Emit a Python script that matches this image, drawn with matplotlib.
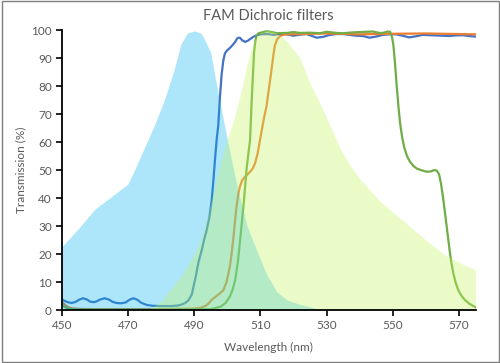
import numpy as np
import matplotlib
matplotlib.use("Agg")
import matplotlib.pyplot as plt
from matplotlib.patches import Rectangle

# excitation spectrum (blue area)
exc_wl = [450, 455, 460, 465, 470, 472, 475, 478, 481, 484, 486, 488, 490, 492,
          493, 495, 497, 500, 503, 506, 509, 512, 515, 518, 522, 527, 530]
exc_t = [22.5, 29, 36, 40.5, 45, 50, 58, 66, 75, 86, 95, 99, 99.7, 99,
         97, 92, 79, 61, 44, 30, 21, 12.5, 6.5, 3.6, 2, 0.5, 0]

# emission spectrum (yellow-green area)
em_wl = [476, 480, 482, 486, 490, 492, 494, 496, 498, 500, 502, 504, 506, 508,
         510, 512, 514, 516, 518, 520, 522, 525, 528, 531, 534, 537, 540, 543,
         546, 550, 554, 558, 562, 566, 570, 575]
em_t = [0, 3, 6, 12, 20, 25, 33, 43, 53, 61, 68, 77, 88, 96,
        99, 100, 99.5, 98, 96, 93, 90, 81, 74, 66, 58, 52, 47, 43,
        39, 35, 31, 27, 23, 19.5, 17, 14.3]

# filter 1 (blue line)
f1_wl = [450, 450.8, 451.8, 453, 454.2, 455.3, 456.5, 457.7, 458.6, 459.5,
         460.4, 461.5, 463, 464.3, 465.4, 466.6, 468, 469.3, 470.4, 471.6,
         472.8, 474, 475.7, 477.6, 480, 483, 485, 486.3, 487.3, 488.3, 489.3,
         489.8, 490.5, 491.3, 492.3, 493, 493.8, 494.6, 495.3, 495.8, 496.3,
         496.8, 497.3, 497.8, 498.3, 498.8, 499.3, 500, 500.7, 501.5, 502.4,
         503, 503.4, 503.9, 504.5, 505.4, 506.2, 506.9, 507.9, 508.9, 510,
         512, 514, 516, 518, 520, 522, 524, 527, 529, 531, 533, 535, 537, 539,
         541, 543, 545, 547, 549, 551, 553, 555, 557, 559, 561, 563, 565, 567,
         569, 571, 573, 575]
f1_t = [3.8, 3.3, 2.8, 2.5, 2.9, 3.7, 4.2, 3.7, 3.0, 2.8,
        3.0, 3.7, 4.2, 3.7, 2.9, 2.5, 2.4, 2.7, 3.6, 4.2,
        3.7, 2.6, 1.8, 1.5, 1.4, 1.4, 1.6, 2.0, 2.5, 3.5, 5.5,
        8.3, 12, 17, 21.4, 25, 28.6, 33, 39, 46, 53.6,
        60.7, 66, 76, 84, 89, 91.7, 92.8, 93.5, 94.5, 95.8,
        97.0, 97.3, 97.2, 96.4, 95.8, 96.2, 96.8, 97.6, 98.2, 98.5,
        98.6, 98.3, 98.6, 98.5, 98.0, 98.4, 98.6, 97.3, 97.6, 98.3, 98.6, 98.6,
        98.3, 98.0, 97.9, 97.3, 97.7, 98.3, 98.5, 98.5, 98.0, 97.4, 97.8,
        98.3, 98.2, 98.1, 98.0, 97.9, 98.1, 98.2, 97.9, 97.7]

# filter 2 (orange line)
f2_wl = [450, 451, 452, 453, 455, 460, 470, 480, 490, 492, 493.5, 494.5,
         495.3, 497, 498.8, 499.8, 500.8, 501.3, 501.8, 502.3, 502.8, 503.3,
         503.8, 504.5, 505.4, 506.2, 506.9, 507.7, 508.4, 509.2, 509.9, 510.4,
         511.1, 511.9, 512.7, 513.4, 514, 514.4, 515.1, 516, 517, 518, 522,
         530, 540, 550, 560, 570, 575]
f2_t = [3.0, 1.8, 1.0, 0.6, 0.4, 0.3, 0.3, 0.3, 0.5, 0.8, 1.5, 2.5,
        3.6, 5.2, 7.0, 10, 15.5, 20, 25, 31, 36.9, 41,
        44, 46.3, 47.6, 48.5, 49.4, 50.5, 52.4, 56, 60.7, 64,
        68.5, 73, 80, 86, 91.5, 94.6, 96.8, 97.9, 98.4, 98.5, 98.6,
        98.8, 98.5, 98.7, 98.8, 98.6, 98.5]

# filter 3 (green line)
f3_wl = [450, 451, 452, 454, 460, 480, 495, 498, 499.5, 500.8, 501.7, 502.4,
         503.2, 503.9, 504.4, 504.9, 505.4, 505.9, 506.4, 506.9, 507.4, 508.1,
         508.5, 508.9, 509.5, 510.5, 512, 513.5, 515, 518, 520, 522, 525, 528,
         530, 533, 535, 538, 540, 542, 544, 546, 547, 548.5, 549.2, 549.8,
         550.2, 550.7, 551.2, 551.7, 552.2, 552.8, 553.5, 554.3, 555.2, 556.2,
         557.2, 558.5, 560.3, 561.5, 562.5, 563.3, 564, 564.6, 565.3, 565.8,
         566.3, 566.8, 567.3, 567.8, 568.3, 569, 569.8, 570.8, 571.8, 573.2,
         574.7, 575]
f3_t = [2.0, 1.0, 0.5, 0.2, 0.1, 0.1, 0.3, 1.2, 2.5, 4.8, 7.5, 10.7,
        17, 25, 31, 37, 44, 51, 56, 60.7, 75, 92,
        96, 98.2, 98.9, 99.2, 99.6, 99.3, 98.9, 99.0, 99.3, 99.0, 99.1, 98.9,
        99.4, 99.0, 98.9, 99.2, 99.3, 99.4, 99.5, 99.0, 99.0, 99.5, 99.4, 97.5,
        94.6, 88, 80, 73, 67, 62, 58, 55, 53, 51.5,
        50.6, 50.0, 49.4, 49.5, 50.0, 49.8, 48.5, 45, 39.3, 34.5,
        29.8, 25, 20.2, 16.3, 13.1, 9.8, 7.1, 5.0, 3.6, 2.2,
        1.2, 1.0]

x_ticks = [450, 470, 490, 510, 530, 550, 570]
y_ticks = list(range(0, 101, 10))

plt.rcParams['font.family'] = ['Lato', 'DejaVu Sans']
text_color = '#595959'

fig = plt.figure(figsize=(5.0, 3.63), dpi=100)
ax = fig.add_axes([0.1234, 0.146, 0.8276, 0.771])

# lines first, areas drawn over them with transparency
ax.plot(f1_wl, f1_t, color='#4472C4', lw=1.6, zorder=2, solid_joinstyle='round')
ax.plot(f2_wl, f2_t, color='#ED7D31', lw=1.6, zorder=2, solid_joinstyle='round')
ax.plot(f3_wl, f3_t, color='#70AD47', lw=1.6, zorder=2, solid_joinstyle='round')

ax.fill_between(exc_wl, exc_t, 0, color='#00B0F0', alpha=0.32, lw=0, zorder=3)
ax.fill_between(em_wl, em_t, 0, color='#C3F662', alpha=0.35, lw=0, zorder=3)

ax.set_xlim(450, 575)
ax.set_ylim(0, 100)
ax.set_xticks(x_ticks)
ax.set_yticks(y_ticks)

for side in ['top', 'right']:
    ax.spines[side].set_visible(False)
for side in ['left', 'bottom']:
    ax.spines[side].set_color('black')
    ax.spines[side].set_linewidth(1.3)
    ax.spines[side].set_zorder(5)

ax.tick_params(axis='both', direction='out', length=4, width=1.2,
               color='black', labelcolor=text_color, labelsize=8.5, pad=3)

ax.set_title('FAM Dichroic filters', color=text_color, fontsize=10.5, pad=7)
ax.set_xlabel('Wavelength (nm)', color=text_color, fontsize=8.5, labelpad=8)
ax.set_ylabel('Transmission (%)', color=text_color, fontsize=8.5, labelpad=4)

# chart border
fig.patches.append(Rectangle((0.003, 0.004), 0.994, 0.992, transform=fig.transFigure,
                             fill=False, edgecolor='#7F7F7F', lw=1.0))

fig.savefig('out.png', dpi=100)
